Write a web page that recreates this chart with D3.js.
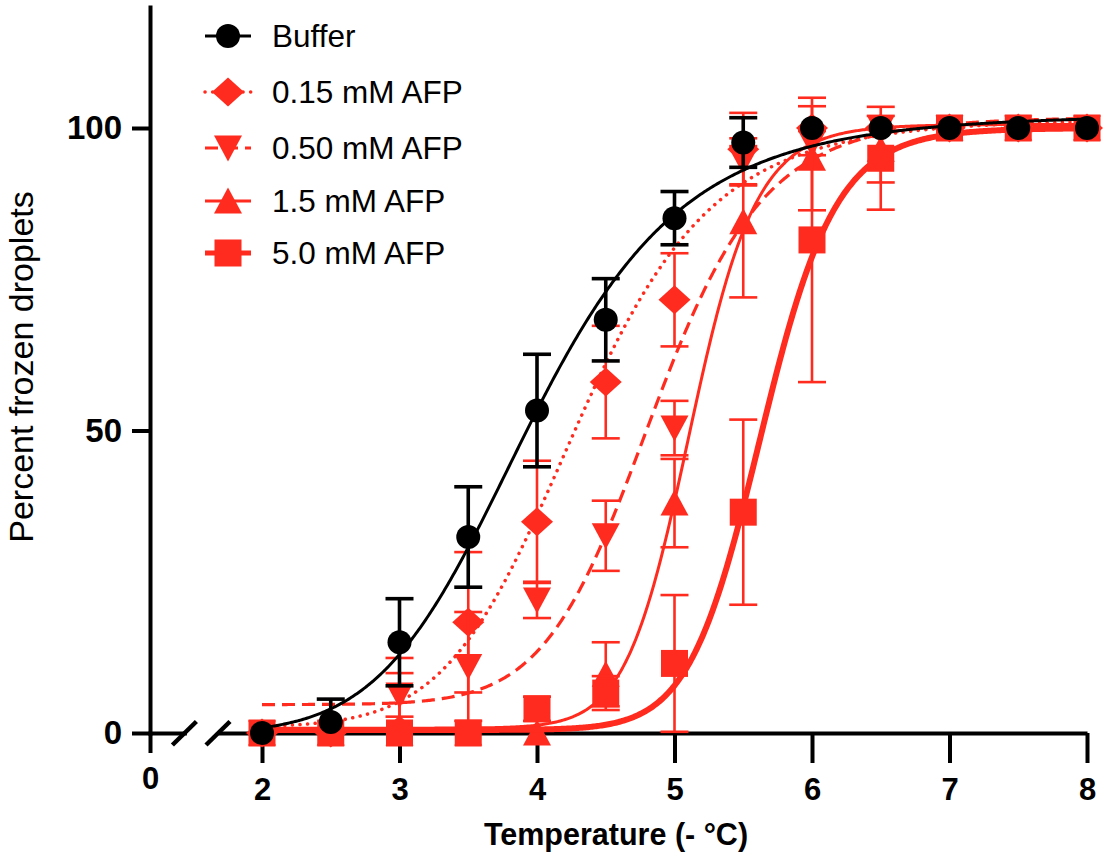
<!DOCTYPE html>
<html>
<head>
<meta charset="utf-8">
<script src="https://cdn.jsdelivr.net/npm/d3@7"></script>
<style>
  html, body { margin: 0; padding: 0; background: #fff; }
  svg { display: block; }
</style>
</head>
<body>
<svg id="chart" width="1106" height="864"></svg>
<script>
// ---- data -------------------------------------------------------------
const temps = [2, 2.5, 3, 3.5, 4, 4.5, 5, 5.5, 6, 6.5, 7, 7.5, 8];

const seriesNames = ["Buffer", "0.15 mM AFP", "0.50 mM AFP", "1.5 mM AFP", "5.0 mM AFP"];

const bufferMean = [0, 1.8, 15, 32.4, 53.3, 68.3, 85.1, 97.6, 100, 100, 100, 100, 100];
const bufferSD   = [0, 3.8, 7.2, 8.3, 9.3, 6.8, 4.4, 4.1, 0, 0, 0, 0, 0];

const afp015Mean = [0, 0, 0.5, 18.3, 34.9, 58, 71.6, 96.5, 100, 100, 100, 100, 100];
const afp015SD   = [0, 0, 11.9, 11.6, 10.1, 9.3, 7.7, 6, 0, 0, 0, 0, 0];

const afp050Mean = [0, 0, 6.3, 11, 22, 32.6, 50.4, 94.5, 97.5, 100, 100, 100, 100];
const afp050SD   = [0, 0, 3.6, 9, 3, 5.8, 4.5, 3.8, 2, 0, 0, 0, 0];

const afp15Mean  = [0, 0, 0, 0, 0, 9.7, 38, 84.5, 95, 96.5, 100, 100, 100];
const afp15SD    = [0, 0, 0, 0, 0, 5.3, 7.3, 12.5, 8.6, 5.5, 0, 0, 0];

const afp50Mean  = [0, 0, 0, 0, 4, 6.6, 11.5, 36.5, 81.5, 95, 100, 100, 100];
const afp50SD    = [0, 0, 0, 0, 2, 2.8, 11.3, 15.3, 23.5, 8.5, 0, 0, 0];

// fitted sigmoid (variable-slope dose-response) parameters, one per series
const fitBottom = [0, 1, 4.7, 0.8, 0.5];
const fitTop    = [102.2, 101.5, 101.8, 100.6, 100];
const fitMid    = [3.95, 4.3, 4.85, 5.12, 5.64];
const fitHill   = [7, 8.7, 12, 21.5, 21];

// axis ticks
const xTicksLeft = [0];
const xTicks = [2, 3, 4, 5, 6, 7, 8];
const yTicks = [0, 50, 100];

const xTitle = "Temperature (- °C)";
const yTitle = "Percent frozen droplets";

// ---- setup ------------------------------------------------------------
const FONT = "'Liberation Sans', Arial, Helvetica, sans-serif";
const RED = "#ff2b1e";
const svg = d3.select("#chart");

const y  = d3.scaleLinear().domain([0, 120]).range([733, 7]);
const x  = d3.scaleLinear().domain([2, 8]).range([262, 1087]);
const x0 = d3.scaleLinear().domain([0, 0.25]).range([150, 184.4]);

const means = [bufferMean, afp015Mean, afp050Mean, afp15Mean, afp50Mean];
const sds   = [bufferSD, afp015SD, afp050SD, afp15SD, afp50SD];

const styles = [
  { color: "#000", shape: "circle",   width: 3,   dash: null,      cap: "butt",  ebw: 3.6 },
  { color: RED,    shape: "diamond",  width: 3.5, dash: "0.1 7.5", cap: "round", ebw: 2.6 },
  { color: RED,    shape: "triDown",  width: 3.2, dash: "13 7",    cap: "butt",  ebw: 2.6 },
  { color: RED,    shape: "triUp",    width: 3,   dash: null,      cap: "butt",  ebw: 2.6 },
  { color: RED,    shape: "square",   width: 6,   dash: null,      cap: "butt",  ebw: 2.6 }
];

function markerPath(shape) {
  switch (shape) {
    case "circle":  return "M12,0A12,12 0 1,1 -12,0A12,12 0 1,1 12,0Z";
    case "square":  return "M-13.5,-13.5H13.5V13.5H-13.5Z";
    case "diamond": return "M0,-14.5L16,0L0,14.5L-16,0Z";
    case "triDown": return "M-14,-12.5H14L0,13.5Z";
    case "triUp":   return "M-14,12.5H14L0,-13.5Z";
  }
}

// ---- axes -------------------------------------------------------------
function styleAxis(g, size) {
  g.attr("font-family", FONT).attr("font-size", size).attr("font-weight", "bold");
  g.select(".domain").attr("stroke", "#000").attr("stroke-width", 4).attr("stroke-linecap", "square");
  g.selectAll(".tick line").attr("stroke", "#000").attr("stroke-width", 4);
  g.selectAll(".tick text").attr("fill", "#000");
}

svg.append("g")
  .attr("transform", "translate(0,733)")
  .call(d3.axisBottom(x0).tickValues(xTicksLeft).tickSize(20).tickSizeOuter(0).tickPadding(14).tickFormat(d3.format("d")))
  .call(styleAxis, 31);

const xAxisScale = x.copy().domain([1.68, 8]).range([x(1.68), x(8)]);
svg.append("g")
  .attr("transform", "translate(0,733)")
  .call(d3.axisBottom(xAxisScale).tickValues(xTicks).tickSize(30).tickSizeOuter(0).tickPadding(15).tickFormat(d3.format("d")))
  .call(styleAxis, 31)
  .select(".domain").attr("stroke-linecap", "butt");

svg.append("g")
  .attr("transform", "translate(150,0)")
  .call(d3.axisLeft(y).tickValues(yTicks).tickSize(18).tickPadding(10).tickSizeOuter(0))
  .call(styleAxis, 33);

// axis break marks
[x0(0.25), x(1.68)].forEach(cx => {
  svg.append("line")
    .attr("x1", cx - 12).attr("y1", 745).attr("x2", cx + 12).attr("y2", 721.5)
    .attr("stroke", "#000").attr("stroke-width", 4.5);
});

// axis titles
svg.append("text")
  .attr("x", 616).attr("y", 845)
  .attr("text-anchor", "middle")
  .attr("font-family", FONT).attr("font-size", 30.5).attr("font-weight", "bold")
  .text(xTitle);

svg.append("text")
  .attr("transform", "translate(33,367) rotate(-90)")
  .attr("text-anchor", "middle")
  .attr("font-family", FONT).attr("font-size", 34)
  .text(yTitle);

// ---- series -----------------------------------------------------------
const curveX = d3.range(2, 8.0001, 0.01);
const line = d3.line().x(d => x(d[0])).y(d => y(d[1]));

const plot = svg.append("g");
const drawOrder = [1, 2, 3, 4, 0];

drawOrder.forEach(i => {
  const st = styles[i];
  const g = plot.append("g");
  const pts = temps.map((t, k) => ({ t, m: means[i][k], s: sds[i][k] }));

  // error bars
  pts.filter(p => p.s > 0).forEach(p => {
    const lo = p.m - p.s, hi = p.m + p.s;
    const px = x(p.t);
    g.append("line")
      .attr("x1", px).attr("x2", px)
      .attr("y1", y(Math.max(lo, 0))).attr("y2", y(hi))
      .attr("stroke", st.color).attr("stroke-width", st.ebw);
    g.append("line")
      .attr("x1", px - 14).attr("x2", px + 14).attr("y1", y(hi)).attr("y2", y(hi))
      .attr("stroke", st.color).attr("stroke-width", st.ebw);
    if (lo >= 0) {
      g.append("line")
        .attr("x1", px - 14).attr("x2", px + 14).attr("y1", y(lo)).attr("y2", y(lo))
        .attr("stroke", st.color).attr("stroke-width", st.ebw);
    }
  });

  // fitted curve
  const fit = curveX.map(t => [t, fitBottom[i] + (fitTop[i] - fitBottom[i]) / (1 + Math.pow(fitMid[i] / t, fitHill[i]))]);
  g.append("path")
    .attr("d", line(fit))
    .attr("fill", "none")
    .attr("stroke", st.color)
    .attr("stroke-width", st.width)
    .attr("stroke-linecap", st.cap)
    .attr("stroke-dasharray", st.dash);

  // markers
  g.selectAll("path.mk").data(pts).join("path")
    .attr("class", "mk")
    .attr("d", markerPath(st.shape))
    .attr("transform", d => `translate(${x(d.t)},${y(d.m)})`)
    .attr("fill", st.color);
});

// ---- legend -----------------------------------------------------------
const legendRows = [36, 92, 148, 201, 253];
const legend = svg.append("g");
seriesNames.forEach((name, i) => {
  const st = styles[i];
  const ly = legendRows[i];
  const row = legend.append("g").attr("transform", `translate(0,${ly})`);
  row.append("line")
    .attr("x1", 205).attr("x2", 251).attr("y1", 0).attr("y2", 0)
    .attr("stroke", st.color).attr("stroke-width", i === 4 ? 5 : st.width)
    .attr("stroke-linecap", st.cap)
    .attr("stroke-dasharray", st.dash);
  row.append("path")
    .attr("d", markerPath(st.shape))
    .attr("transform", "translate(228,0)")
    .attr("fill", st.color);
  row.append("text")
    .attr("x", 272).attr("y", 0)
    .attr("dy", "0.36em")
    .attr("font-family", FONT).attr("font-size", 31.5)
    .attr("fill", "#000")
    .text(name);
});
</script>
</body>
</html>
